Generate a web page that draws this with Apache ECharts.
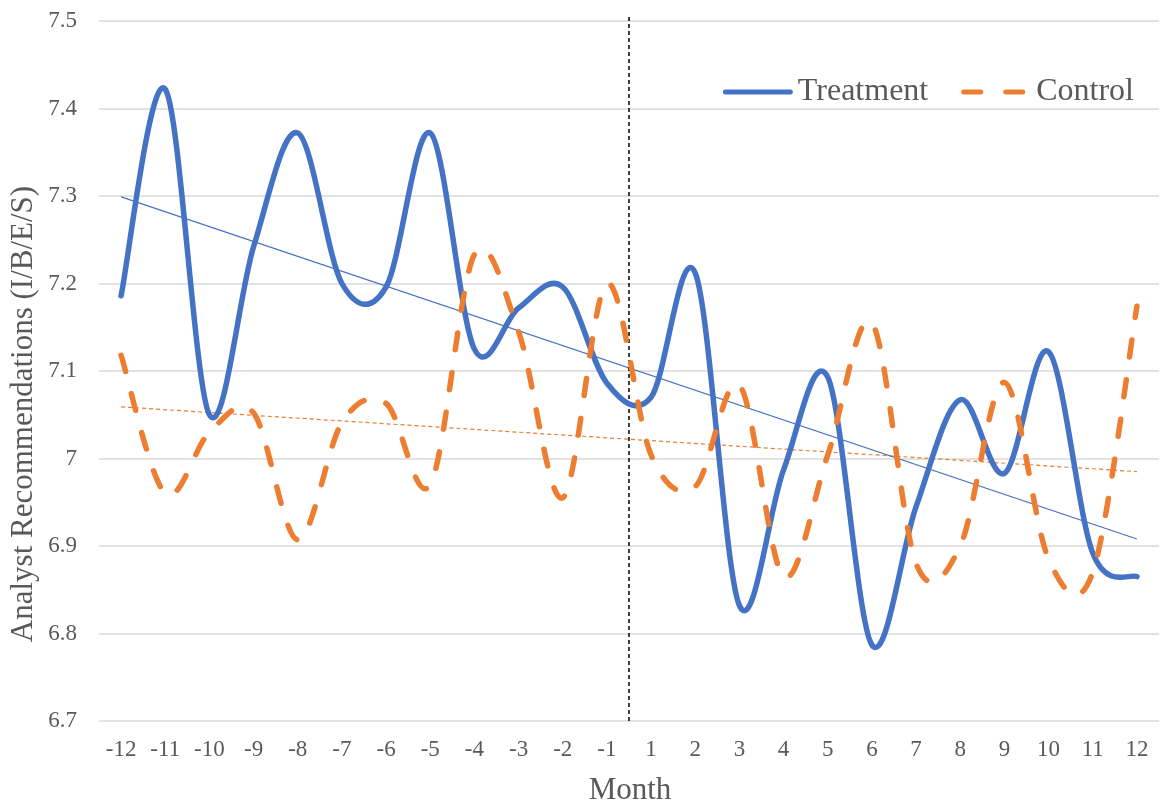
<!DOCTYPE html>
<html>
<head>
<meta charset="utf-8">
<script src="https://cdn.jsdelivr.net/npm/echarts@6/dist/echarts.min.js"></script>
<style>
html,body{margin:0;padding:0;background:#fff;}
#chart{width:1162px;height:805px;}
</style>
</head>
<body>
<div id="chart"></div>
<script>
const months = ['-12','-11','-10','-9','-8','-7','-6','-5','-4','-3','-2','-1','1','2','3','4','5','6','7','8','9','10','11','12'];
const treatment = [7.186, 7.422, 7.050, 7.242, 7.372, 7.200, 7.196, 7.372, 7.125, 7.172, 7.196, 7.086, 7.070, 7.212, 6.832, 6.987, 7.093, 6.787, 6.945, 7.067, 6.983, 7.122, 6.892, 6.865];
const control   = [7.118, 6.960, 7.030, 7.052, 6.907, 7.041, 7.063, 6.970, 7.233, 7.145, 6.955, 7.200, 7.004, 6.968, 7.084, 6.865, 7.004, 7.155, 6.880, 6.900, 7.087, 6.885, 6.870, 7.174];
// linear trend lines, values at first and last month
const treatmentTrend = [7.299, 6.908];
const controlTrend   = [7.059, 6.985];
const yTicks = {min: 6.7, max: 7.5, interval: 0.1};
const eventPos = 11.5; // between month -1 and month 1

const FONT = '"Liberation Serif", "Times New Roman", serif';
const TXT = '#595959';
const BLUE = '#4472C4';
const ORANGE = '#ED7D31';

// Smoothed line (spreadsheet-style Catmull-Rom Bezier) through the points,
// positioned with the chart's own axes via api.coord.
function smoothPath(api, values) {
  const pts = values.map((v, i) => api.coord([i, v]));
  const n = pts.length;
  let d = 'M' + pts[0][0] + ',' + pts[0][1];
  for (let i = 0; i < n - 1; i++) {
    const p0 = pts[Math.max(i - 1, 0)], p1 = pts[i], p2 = pts[i + 1], p3 = pts[Math.min(i + 2, n - 1)];
    const c1x = p1[0] + (p2[0] - p0[0]) / 6, c1y = p1[1] + (p2[1] - p0[1]) / 6;
    const c2x = p2[0] - (p3[0] - p1[0]) / 6, c2y = p2[1] - (p3[1] - p1[1]) / 6;
    d += ' C' + c1x + ',' + c1y + ' ' + c2x + ',' + c2y + ' ' + p2[0] + ',' + p2[1];
  }
  return d;
}
function curveSeries(name, values, color, width, dash, z) {
  return {
    name: name, type: 'custom', z: z,
    data: values.map((v, i) => [i, v]),
    encode: {x: 0, y: 1},
    itemStyle: {color: color},
    clip: false,
    renderItem: function (params, api) {
      if (params.dataIndex !== 0) return null;
      return {
        type: 'path',
        shape: {pathData: smoothPath(api, values)},
        style: {fill: 'none', stroke: color, lineWidth: width, lineDash: dash, lineCap: 'round', lineJoin: 'round'}
      };
    }
  };
}

const iconSolid = 'path://M2.5,0 L67.5,0 A2.5,2.5 0 0 1 67.5,5 L2.5,5 A2.5,2.5 0 0 1 2.5,0 Z';
const iconDash = 'path://M2.5,0 L19.5,0 A2.5,2.5 0 0 1 19.5,5 L2.5,5 A2.5,2.5 0 0 1 2.5,0 Z M44.5,0 L61.5,0 A2.5,2.5 0 0 1 61.5,5 L44.5,5 A2.5,2.5 0 0 1 44.5,0 Z M70,2.5 L70,2.5 Z';

const chart = echarts.init(document.getElementById('chart'), null, {renderer: 'canvas'});
const last = months.length - 1;
chart.setOption({
  animation: false,
  backgroundColor: '#ffffff',
  grid: {left: 99, right: 3, top: 21, bottom: 84, containLabel: false},
  legend: {
    data: [{name: 'Treatment', icon: iconSolid}, {name: 'Control', icon: iconDash}],
    right: 23, top: 71,
    itemWidth: 70, itemHeight: 5.5, itemGap: 33,
    textStyle: {fontFamily: FONT, fontSize: 32, color: TXT}
  },
  xAxis: [{
    type: 'category',
    data: months,
    boundaryGap: true,
    axisLine: {show: false},
    axisTick: {show: false},
    axisLabel: {fontFamily: FONT, fontSize: 23, color: TXT, margin: 17, interval: 0},
    splitLine: {show: false}
  }, {
    type: 'value',
    min: -0.5, max: months.length - 0.5,
    show: false
  }],
  yAxis: {
    type: 'value',
    min: yTicks.min, max: yTicks.max, interval: yTicks.interval,
    axisLine: {show: false},
    axisTick: {show: false},
    axisLabel: {
      fontFamily: FONT, fontSize: 23, color: TXT, margin: 22,
      formatter: v => {
        const r = Math.round(v * 10) / 10;
        return Number.isInteger(r) ? String(r) : r.toFixed(1);
      }
    },
    splitLine: {lineStyle: {color: '#d9d9d9', width: 1.5}}
  },
  graphic: [{
    type: 'text', x: 630, y: 791,
    style: {text: 'Month', font: '31px ' + FONT, fill: TXT, textAlign: 'center', textVerticalAlign: 'middle'}
  }, {
    type: 'text', x: 24, y: 414, rotation: Math.PI / 2,
    style: {text: 'Analyst Recommendations (I/B/E/S)', font: '31px ' + FONT, fill: TXT, textAlign: 'center', textVerticalAlign: 'middle'}
  }],
  series: [{
    name: 'Control trend', type: 'line', xAxisIndex: 1,
    data: [[0, controlTrend[0]], [last, controlTrend[1]]],
    symbol: 'none', silent: true, z: 1,
    lineStyle: {color: ORANGE, width: 1.2, type: [4, 3]}
  }, {
    name: 'Treatment trend', type: 'line', xAxisIndex: 1,
    data: [[0, treatmentTrend[0]], [last, treatmentTrend[1]]],
    symbol: 'none', silent: true, z: 1,
    lineStyle: {color: BLUE, width: 1.2}
  }, {
    name: 'Event', type: 'line', xAxisIndex: 1,
    data: [[eventPos, yTicks.min], [eventPos, yTicks.max + 0.007]],
    symbol: 'none', silent: true, clip: false, z: 1,
    lineStyle: {color: '#000000', width: 1.5, type: [4, 3]}
  },
  curveSeries('Treatment', treatment, BLUE, 5.5, null, 3),
  curveSeries('Control', control, ORANGE, 5.5, [17, 23], 4)
  ]
});
</script>
</body>
</html>
